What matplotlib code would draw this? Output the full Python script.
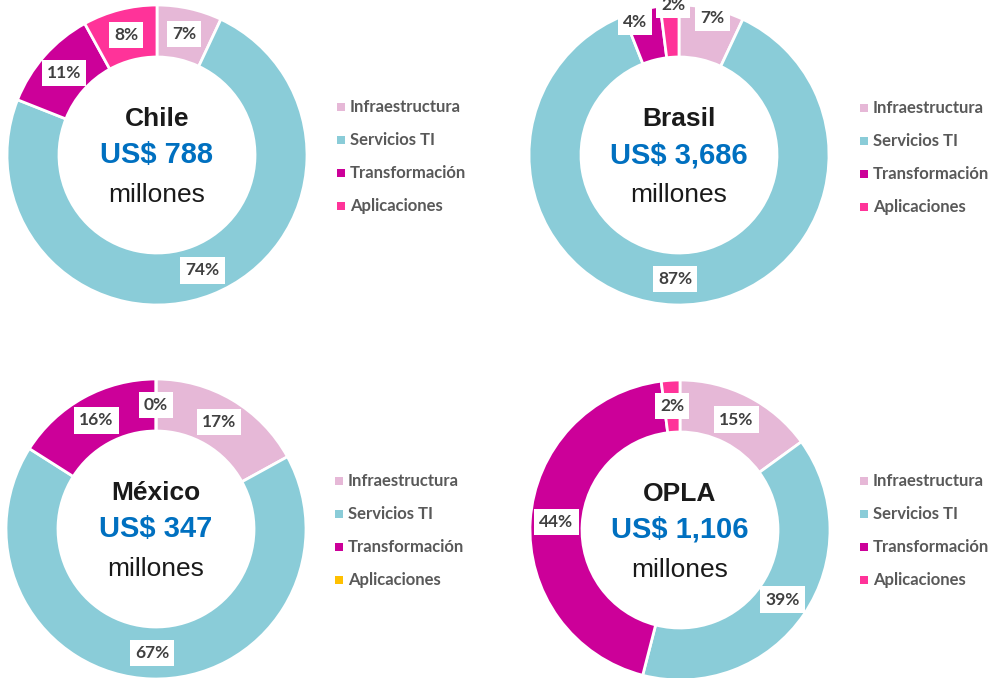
import matplotlib
matplotlib.use("Agg")
import matplotlib.pyplot as plt
import numpy as np

W, H = 990, 678

categories = ["Infraestructura", "Servicios TI", "Transformación", "Aplicaciones"]
countries = ["Chile", "Brasil", "México", "OPLA"]
totals = ["US$ 788", "US$ 3,686", "US$ 347", "US$ 1,106"]

chile = [7, 74, 11, 8]
brasil = [7, 87, 4, 2]
mexico = [17, 67, 16, 0]
opla = [15, 39, 44, 2]

colors = ["#E6B8D7", "#8ACCD8", "#CC0099", "#FF3399"]
colors_mexico = ["#E6B8D7", "#8ACCD8", "#CC0099", "#FFC000"]

# pixel layout: (center x, center y from top, legend x, legend y of first row)
layout = [
    (157, 155, 341, 107),
    (679, 155, 864, 108),
    (156, 529, 339, 481),
    (680, 530, 864, 481),
]
R = 150
RING = 52

# small slices of Brasil had their labels pushed outwards
label_r = [
    [1, 1, 1, 1],
    [1.14, 1, 1.13, 1.21],
    [1, 1, 1, 1],
    [1, 1, 1, 1],
]
label_shift = [
    [0, 0, 0, 0],
    [-1, 0, 4, -1.3],
    [0, 0, 0, 0],
    [0, 0, 0, 0],
]

fig = plt.figure(figsize=(W / 100, H / 100), dpi=100)
ax = fig.add_axes([0, 0, 1, 1])

data = [chile, brasil, mexico, opla]
for i, vals in enumerate(data):
    cx, cy, lx, ly = layout[i]
    cols = colors_mexico if i == 2 else colors
    wedges, _ = ax.pie(vals, colors=cols, startangle=90, counterclock=False,
                       center=(cx, H - cy), radius=R,
                       wedgeprops=dict(width=RING, edgecolor="white", linewidth=2))
    for j, w in enumerate(wedges):
        ang = np.deg2rad((w.theta1 + w.theta2) / 2 + label_shift[i][j])
        rr = (R - RING / 2) * label_r[i][j]
        ax.text(cx + rr * np.cos(ang), H - cy + rr * np.sin(ang), f"{vals[j]}%",
                ha="center", va="center", fontsize=12.5, fontweight="bold",
                family="Lato", color="#404040",
                bbox=dict(boxstyle="square,pad=0.3", fc="white", ec="none"))

    ax.text(cx, H - cy + 36, countries[i], ha="center", va="center", fontsize=19,
            fontweight="bold", family="Liberation Sans", color="#1a1a1a")
    ax.text(cx, H - cy, totals[i], ha="center", va="center", fontsize=21,
            fontweight="bold", family="Liberation Sans", color="#0070C0")
    ax.text(cx, H - cy - 40, "millones", ha="center", va="center", fontsize=19,
            family="Liberation Sans", color="#1a1a1a")

    for j, cat in enumerate(categories):
        y = H - (ly + j * 33)
        ax.scatter([lx], [y], marker="s", s=40, color=cols[j], linewidths=0)
        ax.text(lx + 9, y, cat, ha="left", va="center", fontsize=12,
                fontweight="bold", family="Lato", color="#595959")

ax.set_xlim(0, W)
ax.set_ylim(0, H)
ax.set_aspect("equal")
ax.axis("off")
fig.savefig("out.png", dpi=100)
